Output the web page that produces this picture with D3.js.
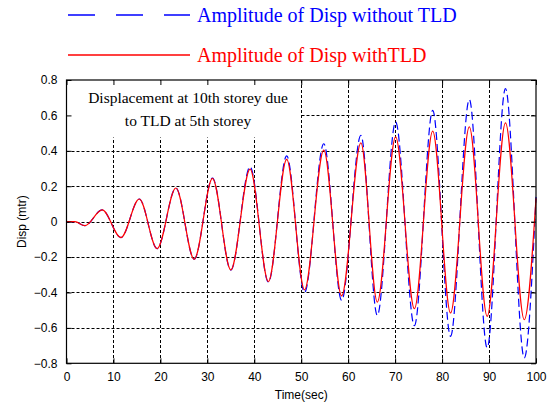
<!DOCTYPE html>
<html>
<head>
<meta charset="utf-8">
<script src="https://cdn.jsdelivr.net/npm/d3@7"></script>
<style>
  body { margin: 0; background: #fff; }
  svg { display: block; }
</style>
</head>
<body>
<div id="chart"></div>
<script>
// peaks / troughs (time in sec)
const times = [0, 1.8, 3.9, 7.6, 11.6, 15.5, 19.3, 23.3, 27.2, 31.1, 35.0, 39.1, 43.0, 46.9,
    50.7, 54.8, 58.6, 62.7, 66.2, 70.1, 74.1, 78.0, 81.8, 85.8, 89.6, 93.5, 97.5, 100];
const dispWithTLD = [0, 0, -0.023, 0.066, -0.09, 0.128, -0.152, 0.19, -0.212, 0.244, -0.272, 0.297,
    -0.338, 0.352, -0.385, 0.404, -0.419, 0.445, -0.454, 0.479, -0.492, 0.511, -0.516, 0.535,
    -0.535, 0.558, -0.554, 0.132];
const dispWithoutTLD = [0, 0, -0.023, 0.066, -0.09, 0.128, -0.152, 0.19, -0.212, 0.246, -0.274, 0.31,
    -0.342, 0.372, -0.40, 0.44, -0.445, 0.488, -0.53, 0.563, -0.588, 0.629, -0.648, 0.69,
    -0.713, 0.752, -0.77, 0.14];
const xTicks = [0, 10, 20, 30, 40, 50, 60, 70, 80, 90, 100];
const yTicks = [-0.8, -0.6, -0.4, -0.2, 0, 0.2, 0.4, 0.6, 0.8];
const legendLabels = ["Amplitude of Disp without TLD", "Amplitude of Disp withTLD"];
const noteLines = ["Displacement at 10th storey due", "to TLD at 5th storey"];

const width = 555, height = 412;
const pLeft = 66.5, pRight = 536, pTop = 80, pBottom = 363.3;
const serifFont = "'Liberation Serif', 'Times New Roman', serif";
const axisFont = "'Liberation Sans', Arial, sans-serif";

const svg = d3.select("#chart").append("svg")
    .attr("width", width)
    .attr("height", height);

const x = d3.scaleLinear().domain([0, 100]).range([pLeft, pRight]);
const y = d3.scaleLinear().domain([-0.8, 0.8]).range([pBottom, pTop]);

// grid
const grid = svg.append("g")
    .attr("stroke", "#000")
    .attr("stroke-dasharray", "3,2")
    .attr("stroke-width", 1);
grid.selectAll("line.gx")
    .data(xTicks.slice(1, -1))
    .enter().append("line")
    .attr("x1", d => Math.round(x(d)) + 0.5).attr("x2", d => Math.round(x(d)) + 0.5)
    .attr("y1", pTop).attr("y2", pBottom);
grid.selectAll("line.gy")
    .data(yTicks.slice(1, -1))
    .enter().append("line")
    .attr("y1", d => Math.round(y(d)) + 0.5).attr("y2", d => Math.round(y(d)) + 0.5)
    .attr("x1", pLeft).attr("x2", pRight);

// white note box in the top-left corner
svg.append("rect")
    .attr("x", pLeft + 0.5).attr("y", pTop + 0.5)
    .attr("width", x(50) - pLeft - 1.5)
    .attr("height", 57)
    .attr("fill", "#fff");

svg.selectAll("text.note")
    .data(noteLines)
    .enter().append("text")
    .attr("x", 188)
    .attr("y", (d, i) => 103 + i * 23)
    .attr("text-anchor", "middle")
    .style("font-family", serifFont)
    .attr("font-size", 15.5)
    .attr("fill", "#000")
    .text(d => d);

// series
const ptsBlue = times.map((t, i) => [t, dispWithoutTLD[i]]);
const ptsRed = times.map((t, i) => [t, dispWithTLD[i]]);
const line = d3.line()
    .x(d => x(d[0]))
    .y(d => y(d[1]))
    .curve(d3.curveMonotoneX);

svg.append("path")
    .datum(ptsBlue)
    .attr("d", line)
    .attr("fill", "none")
    .attr("stroke", "#0000ff")
    .attr("stroke-width", 1.2)
    .attr("stroke-dasharray", "8,4");

svg.append("path")
    .datum(ptsRed)
    .attr("d", line)
    .attr("fill", "none")
    .attr("stroke", "#ff0000")
    .attr("stroke-width", 1.2);

// axes box and inner ticks
svg.append("rect")
    .attr("x", pLeft).attr("y", pTop)
    .attr("width", pRight - pLeft).attr("height", pBottom - pTop)
    .attr("fill", "none")
    .attr("stroke", "#000")
    .attr("stroke-width", 1.2);

const xAxis = svg.append("g")
    .attr("transform", `translate(0,${pBottom})`)
    .call(d3.axisBottom(x).tickValues(xTicks).tickSizeInner(-5).tickSizeOuter(0).tickPadding(9));
const xAxisTop = svg.append("g")
    .attr("transform", `translate(0,${pTop})`)
    .call(d3.axisTop(x).tickValues(xTicks).tickSizeInner(-5).tickSizeOuter(0).tickFormat(""));
const yAxis = svg.append("g")
    .attr("transform", `translate(${pLeft},0)`)
    .call(d3.axisLeft(y).tickValues(yTicks).tickSizeInner(-5).tickSizeOuter(0).tickPadding(9)
        .tickFormat(d => d === 0 ? "0" : d3.format(".1f")(d)));
const yAxisRight = svg.append("g")
    .attr("transform", `translate(${pRight},0)`)
    .call(d3.axisRight(y).tickValues(yTicks).tickSizeInner(-5).tickSizeOuter(0).tickFormat(""));

[xAxis, xAxisTop, yAxis, yAxisRight].forEach(g => {
    g.select(".domain").remove();
    g.selectAll("line").attr("stroke", "#000");
    g.selectAll("text")
        .style("font-family", axisFont)
        .attr("font-size", 12)
        .attr("fill", "#000");
});

svg.append("text")
    .attr("x", (pLeft + pRight) / 2)
    .attr("y", 399)
    .attr("text-anchor", "middle")
    .style("font-family", axisFont)
    .attr("font-size", 12)
    .text("Time(sec)");

svg.append("text")
    .attr("transform", `translate(26,${(pTop + pBottom) / 2}) rotate(-90)`)
    .attr("text-anchor", "middle")
    .style("font-family", axisFont)
    .attr("font-size", 12)
    .text("Disp (mtr)");

// legend
const legendColors = ["#0000ff", "#ff0000"];
const legendDash = ["27,21", null];
const legend = svg.selectAll("g.legend")
    .data(legendLabels)
    .enter().append("g")
    .attr("transform", (d, i) => `translate(0,${15 + i * 40})`);
legend.append("line")
    .attr("x1", 68).attr("x2", 190)
    .attr("y1", 0).attr("y2", 0)
    .attr("stroke", (d, i) => legendColors[i])
    .attr("stroke-width", 1.3)
    .attr("stroke-dasharray", (d, i) => legendDash[i]);
legend.append("text")
    .attr("x", 197)
    .attr("y", 7)
    .style("font-family", serifFont)
    .attr("font-size", 20)
    .attr("fill", (d, i) => legendColors[i])
    .text(d => d);
</script>
</body>
</html>
